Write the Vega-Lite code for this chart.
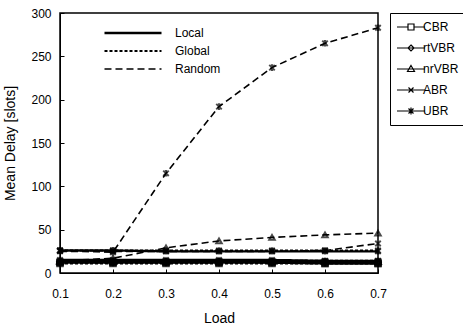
{
  "$schema": "https://vega.github.io/schema/vega-lite/v6.json",
  "width": 318,
  "height": 260,
  "autosize": "none",
  "padding": {"left": 60, "top": 13, "right": 85, "bottom": 58},
  "config": {
    "font": "Liberation Sans",
    "view": {"stroke": "black", "strokeWidth": 1.5},
    "axis": {"grid": false, "domainColor": "black", "tickColor": "black", "labelColor": "black", "titleColor": "black", "labelFontSize": 12, "titleFontSize": 14, "titleFontWeight": "normal"}
  },
  "datasets": {
    "d": [
      {"load": 0.1, "scheme": "Local", "cls": "CBR", "delay": 12},
      {"load": 0.2, "scheme": "Local", "cls": "CBR", "delay": 12},
      {"load": 0.3, "scheme": "Local", "cls": "CBR", "delay": 12},
      {"load": 0.4, "scheme": "Local", "cls": "CBR", "delay": 12},
      {"load": 0.5, "scheme": "Local", "cls": "CBR", "delay": 12},
      {"load": 0.6, "scheme": "Local", "cls": "CBR", "delay": 11},
      {"load": 0.7, "scheme": "Local", "cls": "CBR", "delay": 11},
      {"load": 0.1, "scheme": "Local", "cls": "rtVBR", "delay": 13},
      {"load": 0.2, "scheme": "Local", "cls": "rtVBR", "delay": 13},
      {"load": 0.3, "scheme": "Local", "cls": "rtVBR", "delay": 13},
      {"load": 0.4, "scheme": "Local", "cls": "rtVBR", "delay": 13},
      {"load": 0.5, "scheme": "Local", "cls": "rtVBR", "delay": 13},
      {"load": 0.6, "scheme": "Local", "cls": "rtVBR", "delay": 12},
      {"load": 0.7, "scheme": "Local", "cls": "rtVBR", "delay": 12},
      {"load": 0.1, "scheme": "Local", "cls": "nrVBR", "delay": 14},
      {"load": 0.2, "scheme": "Local", "cls": "nrVBR", "delay": 14},
      {"load": 0.3, "scheme": "Local", "cls": "nrVBR", "delay": 14},
      {"load": 0.4, "scheme": "Local", "cls": "nrVBR", "delay": 14},
      {"load": 0.5, "scheme": "Local", "cls": "nrVBR", "delay": 14},
      {"load": 0.6, "scheme": "Local", "cls": "nrVBR", "delay": 13},
      {"load": 0.7, "scheme": "Local", "cls": "nrVBR", "delay": 13},
      {"load": 0.1, "scheme": "Local", "cls": "ABR", "delay": 15},
      {"load": 0.2, "scheme": "Local", "cls": "ABR", "delay": 15},
      {"load": 0.3, "scheme": "Local", "cls": "ABR", "delay": 15},
      {"load": 0.4, "scheme": "Local", "cls": "ABR", "delay": 15},
      {"load": 0.5, "scheme": "Local", "cls": "ABR", "delay": 15},
      {"load": 0.6, "scheme": "Local", "cls": "ABR", "delay": 14},
      {"load": 0.7, "scheme": "Local", "cls": "ABR", "delay": 14},
      {"load": 0.1, "scheme": "Local", "cls": "UBR", "delay": 26},
      {"load": 0.2, "scheme": "Local", "cls": "UBR", "delay": 26},
      {"load": 0.3, "scheme": "Local", "cls": "UBR", "delay": 25},
      {"load": 0.4, "scheme": "Local", "cls": "UBR", "delay": 25},
      {"load": 0.5, "scheme": "Local", "cls": "UBR", "delay": 25},
      {"load": 0.6, "scheme": "Local", "cls": "UBR", "delay": 25},
      {"load": 0.7, "scheme": "Local", "cls": "UBR", "delay": 25},
      {"load": 0.1, "scheme": "Global", "cls": "CBR", "delay": 11},
      {"load": 0.2, "scheme": "Global", "cls": "CBR", "delay": 11},
      {"load": 0.3, "scheme": "Global", "cls": "CBR", "delay": 11},
      {"load": 0.4, "scheme": "Global", "cls": "CBR", "delay": 11},
      {"load": 0.5, "scheme": "Global", "cls": "CBR", "delay": 11},
      {"load": 0.6, "scheme": "Global", "cls": "CBR", "delay": 11},
      {"load": 0.7, "scheme": "Global", "cls": "CBR", "delay": 11},
      {"load": 0.1, "scheme": "Global", "cls": "rtVBR", "delay": 12},
      {"load": 0.2, "scheme": "Global", "cls": "rtVBR", "delay": 12},
      {"load": 0.3, "scheme": "Global", "cls": "rtVBR", "delay": 12},
      {"load": 0.4, "scheme": "Global", "cls": "rtVBR", "delay": 12},
      {"load": 0.5, "scheme": "Global", "cls": "rtVBR", "delay": 12},
      {"load": 0.6, "scheme": "Global", "cls": "rtVBR", "delay": 12},
      {"load": 0.7, "scheme": "Global", "cls": "rtVBR", "delay": 12},
      {"load": 0.1, "scheme": "Global", "cls": "nrVBR", "delay": 13},
      {"load": 0.2, "scheme": "Global", "cls": "nrVBR", "delay": 13},
      {"load": 0.3, "scheme": "Global", "cls": "nrVBR", "delay": 13},
      {"load": 0.4, "scheme": "Global", "cls": "nrVBR", "delay": 13},
      {"load": 0.5, "scheme": "Global", "cls": "nrVBR", "delay": 13},
      {"load": 0.6, "scheme": "Global", "cls": "nrVBR", "delay": 13},
      {"load": 0.7, "scheme": "Global", "cls": "nrVBR", "delay": 13},
      {"load": 0.1, "scheme": "Global", "cls": "ABR", "delay": 14},
      {"load": 0.2, "scheme": "Global", "cls": "ABR", "delay": 14},
      {"load": 0.3, "scheme": "Global", "cls": "ABR", "delay": 14},
      {"load": 0.4, "scheme": "Global", "cls": "ABR", "delay": 14},
      {"load": 0.5, "scheme": "Global", "cls": "ABR", "delay": 14},
      {"load": 0.6, "scheme": "Global", "cls": "ABR", "delay": 14},
      {"load": 0.7, "scheme": "Global", "cls": "ABR", "delay": 14},
      {"load": 0.1, "scheme": "Global", "cls": "UBR", "delay": 26},
      {"load": 0.2, "scheme": "Global", "cls": "UBR", "delay": 26},
      {"load": 0.3, "scheme": "Global", "cls": "UBR", "delay": 26},
      {"load": 0.4, "scheme": "Global", "cls": "UBR", "delay": 26},
      {"load": 0.5, "scheme": "Global", "cls": "UBR", "delay": 26},
      {"load": 0.6, "scheme": "Global", "cls": "UBR", "delay": 26},
      {"load": 0.7, "scheme": "Global", "cls": "UBR", "delay": 26},
      {"load": 0.1, "scheme": "Random", "cls": "CBR", "delay": 12},
      {"load": 0.2, "scheme": "Random", "cls": "CBR", "delay": 12},
      {"load": 0.3, "scheme": "Random", "cls": "CBR", "delay": 12},
      {"load": 0.4, "scheme": "Random", "cls": "CBR", "delay": 12},
      {"load": 0.5, "scheme": "Random", "cls": "CBR", "delay": 12},
      {"load": 0.6, "scheme": "Random", "cls": "CBR", "delay": 12},
      {"load": 0.7, "scheme": "Random", "cls": "CBR", "delay": 12},
      {"load": 0.1, "scheme": "Random", "cls": "rtVBR", "delay": 13},
      {"load": 0.2, "scheme": "Random", "cls": "rtVBR", "delay": 13},
      {"load": 0.3, "scheme": "Random", "cls": "rtVBR", "delay": 13},
      {"load": 0.4, "scheme": "Random", "cls": "rtVBR", "delay": 13},
      {"load": 0.5, "scheme": "Random", "cls": "rtVBR", "delay": 13},
      {"load": 0.6, "scheme": "Random", "cls": "rtVBR", "delay": 13},
      {"load": 0.7, "scheme": "Random", "cls": "rtVBR", "delay": 13},
      {"load": 0.1, "scheme": "Random", "cls": "nrVBR", "delay": 14},
      {"load": 0.2, "scheme": "Random", "cls": "nrVBR", "delay": 17},
      {"load": 0.3, "scheme": "Random", "cls": "nrVBR", "delay": 29},
      {"load": 0.4, "scheme": "Random", "cls": "nrVBR", "delay": 37},
      {"load": 0.5, "scheme": "Random", "cls": "nrVBR", "delay": 41},
      {"load": 0.6, "scheme": "Random", "cls": "nrVBR", "delay": 44},
      {"load": 0.7, "scheme": "Random", "cls": "nrVBR", "delay": 46},
      {"load": 0.1, "scheme": "Random", "cls": "ABR", "delay": 25},
      {"load": 0.2, "scheme": "Random", "cls": "ABR", "delay": 25},
      {"load": 0.3, "scheme": "Random", "cls": "ABR", "delay": 25},
      {"load": 0.4, "scheme": "Random", "cls": "ABR", "delay": 25},
      {"load": 0.5, "scheme": "Random", "cls": "ABR", "delay": 25},
      {"load": 0.6, "scheme": "Random", "cls": "ABR", "delay": 26},
      {"load": 0.7, "scheme": "Random", "cls": "ABR", "delay": 34},
      {"load": 0.1, "scheme": "Random", "cls": "UBR", "delay": 26},
      {"load": 0.2, "scheme": "Random", "cls": "UBR", "delay": 24},
      {"load": 0.3, "scheme": "Random", "cls": "UBR", "delay": 115},
      {"load": 0.4, "scheme": "Random", "cls": "UBR", "delay": 192},
      {"load": 0.5, "scheme": "Random", "cls": "UBR", "delay": 237},
      {"load": 0.6, "scheme": "Random", "cls": "UBR", "delay": 265},
      {"load": 0.7, "scheme": "Random", "cls": "UBR", "delay": 283}
    ]
  },
  "data": {"name": "d"},
  "encoding": {
    "x": {"field": "load", "type": "quantitative", "title": "Load",
      "scale": {"domain": [0.1, 0.7], "nice": false, "zero": false},
      "axis": {"values": [0.1, 0.2, 0.3, 0.4, 0.5, 0.6, 0.7], "format": ".1f", "tickSize": -4, "labelPadding": 19, "titlePadding": 12, "labelFlush": false}},
    "y": {"field": "delay", "type": "quantitative", "title": "Mean Delay [slots]",
      "scale": {"domain": [0, 300], "nice": false},
      "axis": {"values": [0, 50, 100, 150, 200, 250, 300], "tickSize": -4, "labelPadding": 13, "titlePadding": 13}}
  },
  "layer": [
    {
      "mark": {"type": "line", "color": "black"},
      "encoding": {
        "strokeDash": {"field": "scheme", "type": "nominal",
          "scale": {"domain": ["Local", "Global", "Random"], "range": [[1, 0], [3, 2], [7, 4]]},
          "legend": {"title": null, "orient": "none", "legendX": 66, "legendY": 13, "padding": 0,
            "symbolType": "M-5,0H5", "symbolSize": 130, "symbolStrokeColor": "black", "symbolStrokeWidth": 1.5,
            "labelFontSize": 12, "labelOffset": 35, "rowPadding": 5}},
        "strokeWidth": {"field": "scheme", "type": "nominal",
          "scale": {"domain": ["Local", "Global", "Random"], "range": [2.4, 1.6, 2.6]}, "legend": null},
        "detail": {"field": "cls", "type": "nominal"}
      }
    },
    {
      "mark": {"type": "point", "color": "black", "filled": false, "strokeWidth": 2, "size": 30},
      "encoding": {
        "shape": {"field": "cls", "type": "nominal",
          "scale": {"domain": ["CBR", "rtVBR", "nrVBR", "ABR", "UBR"],
            "range": ["square", "diamond", "triangle-up", "M-1,-1L1,1M-1,1L1,-1", "M-1,-1L1,1M-1,1L1,-1M0,-1.2V1.2"]},
          "legend": null}
      }
    },
    {
      "transform": [{"filter": "datum.load == 0.1"}],
      "mark": {"type": "point", "color": "black", "filled": false, "opacity": 0},
      "encoding": {
        "shape": {"field": "cls", "type": "nominal",
          "scale": {"domain": ["CBR", "rtVBR", "nrVBR", "ABR", "UBR"],
            "range": [
              "M-2.8,0H-0.6M0.6,0H2.8M-0.6,-0.6H0.6V0.6H-0.6Z",
              "M-2.8,0H2.8M0,-0.6L0.6,0L0,0.6L-0.6,0Z",
              "M-2.8,0H2.8M0,-0.7L0.7,0.5H-0.7Z",
              "M-2.8,0H2.8M-0.5,-0.5L0.5,0.5M-0.5,0.5L0.5,-0.5",
              "M-2.8,0H2.8M-0.5,-0.5L0.5,0.5M-0.5,0.5L0.5,-0.5M0,-0.7V0.7"
            ]},
          "legend": {"title": null, "orient": "none", "legendX": 330, "legendY": 0, "padding": 8,
            "strokeColor": "black", "symbolSize": 100, "symbolOpacity": 1, "symbolStrokeColor": "black",
            "symbolFillColor": "transparent", "symbolStrokeWidth": 1.2, "labelFontSize": 12, "rowPadding": 9,
            "symbolOffset": 7, "labelOffset": 6}}
      }
    }
  ],
  "resolve": {"scale": {"shape": "independent"}, "legend": {"shape": "independent"}}
}
